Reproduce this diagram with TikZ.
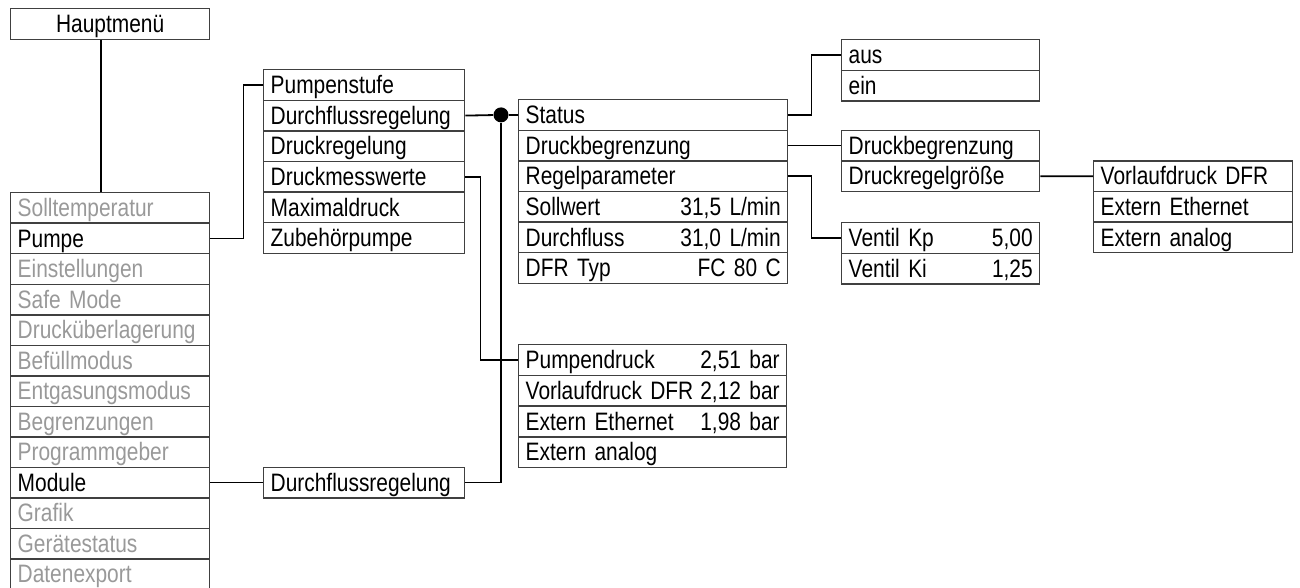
\documentclass[tikz,border=0pt]{standalone}
\usepackage{fontspec}
\setmainfont[FakeStretch=0.83, WordSpace=0.85]{Liberation Sans}

\tikzset{
  menurow/.style={draw=black!75, line width=0.7pt, anchor=north west,
    inner xsep=3.5pt, inner ysep=0pt, minimum height=15.3pt,
    text height=8.7pt, text depth=0pt, align=left,
    font=\fontsize{12.6}{14}\selectfont},
  inactive/.style={text=black!40},
  active/.style={},
  link/.style={line width=0.9pt},
  junction/.style={circle, fill, inner sep=0pt, minimum size=7.5pt},
}

\begin{document}
\begin{tikzpicture}[x=0.5pt, y=-0.5pt]
    \useasboundingbox (0,0) rectangle (1300,588);

    % main menu
    \node[menurow, text width=92.5pt, align=center] (haupt) at (10,8) {Hauptmen\"u};
    \foreach \txt/\look [count=\i from 0] in {Solltemperatur/inactive, Pumpe/active,
        Einstellungen/inactive, Safe Mode/inactive, Druck\"uberlagerung/inactive,
        Bef\"ullmodus/inactive, Entgasungsmodus/inactive, Begrenzungen/inactive,
        Programmgeber/inactive, Module/active, Grafik/inactive,
        Ger\"atestatus/inactive, Datenexport/inactive}
      \node[menurow, \look, text width=92.5pt] (main-\i) at (10,192+\i*30.5) {\txt};

    % pump menu
    \foreach \txt [count=\i from 0] in {Pumpenstufe, Durchflussregelung, Druckregelung,
        Druckmesswerte, Maximaldruck, Zubeh\"orpumpe}
      \node[menurow, text width=93.5pt] (pump-\i) at (263,69+\i*30.6) {\txt};
    \node[menurow, text width=93.5pt] (dfr-0) at (263,466.5) {Durchflussregelung};

    % flow control
    \foreach \txt [count=\i from 0] in {Status, Druckbegrenzung, Regelparameter,
        {Sollwert\hfill 31,5 L/min\hspace{6.5pt}}, {Durchfluss\hfill 31,0 L/min\hspace{6.5pt}},
        {DFR Typ\hfill FC 80 C\hspace{6.5pt}}}
      \node[menurow, text width=127.5pt] (status-\i) at (518,99+\i*30.6) {\txt};
    \foreach \txt [count=\i from 0] in {{Pumpendruck\hfill 2,51 bar\hspace{2pt}},
        {Vorlaufdruck DFR\hfill 2,12 bar\hspace{2pt}}, {Extern Ethernet\hfill 1,98 bar\hspace{2pt}},
        Extern analog}
      \node[menurow, text width=127pt] (druck-\i) at (518,344+\i*30.7) {\txt};

    % sub menus
    \foreach \txt [count=\i from 0] in {aus, ein}
      \node[menurow, text width=92pt] (aus-\i) at (841,39+\i*30.6) {\txt};
    \foreach \txt [count=\i from 0] in {Druckbegrenzung, Druckregelgr\"o\ss e}
      \node[menurow, text width=92pt] (dbg-\i) at (841,129.6+\i*30.6) {\txt};
    \foreach \txt [count=\i from 0] in {{Ventil Kp\hfill 5,00}, {Ventil Ki\hfill 1,25}}
      \node[menurow, text width=92pt] (ventil-\i) at (841,222+\i*30.6) {\txt};
    \foreach \txt [count=\i from 0] in {Vorlaufdruck DFR, Extern Ethernet, Extern analog}
      \node[menurow, text width=92.5pt] (vorl-\i) at (1093,160.2+\i*30.6) {\txt};

    \node[junction] (junc) at (501,114.9) {};

    % connectors
    \draw[link] ([xshift=-4.75pt]haupt.south) -- ([xshift=-4.75pt]main-0.north);
    \draw[link] (main-1.east) -- ++(16.5pt,0) |- (pump-0.west);
    \draw[link] (main-9.east) -- (dfr-0.west);
    \draw[link] (pump-1.east) -- (junc) -- (status-0.west);
    \draw[link] (dfr-0.east) -| (junc);
    \draw[link] (pump-3.east) -- ++(7.5pt,0) |- (druck-0.west);
    \draw[link] (status-0.east) -- ++(11.5pt,0) |- (aus-0.west);
    \draw[link] (status-1.east) -- (dbg-0.west);
    \draw[link] (status-2.east) -- ++(11.5pt,0) |- (ventil-0.west);
    \draw[link] (dbg-1.east) -- (vorl-0.west);
\end{tikzpicture}
\end{document}
